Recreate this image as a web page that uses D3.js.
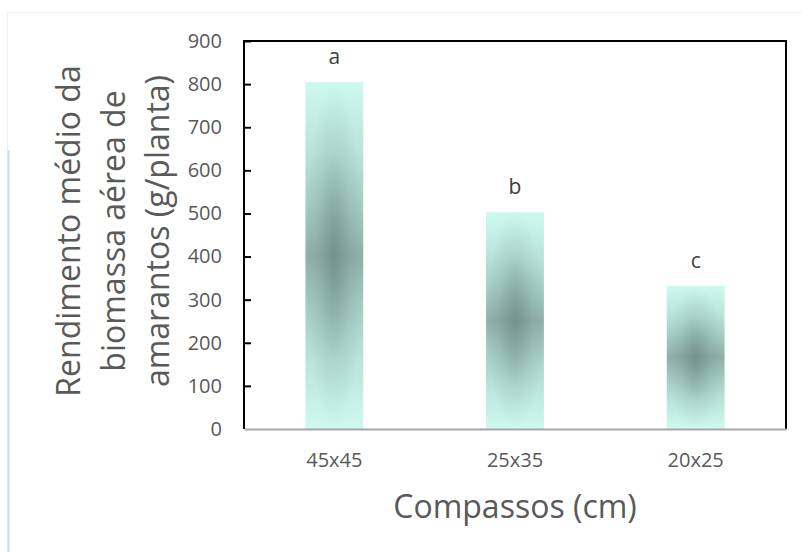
<!DOCTYPE html>
<html><head><meta charset="utf-8">
<script src="https://cdn.jsdelivr.net/npm/d3@7"></script>
<style>body{margin:0;background:#fff;}svg{display:block;}</style>
</head><body>
<script>
const categories = ["45x45", "25x35", "20x25"];
const values = [805, 503, 332];
const letters = ["a", "b", "c"];
const yTicks = [0, 100, 200, 300, 400, 500, 600, 700, 800, 900];
const yTitle = ["Rendimento médio da", "biomassa aérea de", "amarantos (g/planta)"];
const xTitle = "Compassos (cm)";

const W = 802, H = 552;
const m = {left: 244, right: 16, top: 41, bottom: 123};
const font = "'Open Sans', sans-serif";
const svg = d3.select("body").append("svg").attr("width", W).attr("height", H);

// page border
svg.append("path").attr("d", "M7.5,552 V12.5 H802").attr("fill", "none").attr("stroke", "#eef3f8").attr("stroke-width", 1);
svg.append("line").attr("x1", 8.5).attr("x2", 8.5).attr("y1", 150).attr("y2", 552).attr("stroke", "#c9dcf0").attr("stroke-width", 2);

const x = d3.scaleBand().domain(categories).range([m.left, W - m.right]).paddingInner(0.68).paddingOuter(0.34);
const y = d3.scaleLinear().domain([0, 900]).range([H - m.bottom, m.top]);

const defs = svg.append("defs");
const lg = defs.append("linearGradient").attr("id", "g1").attr("x1", 0).attr("x2", 0).attr("y1", 0).attr("y2", 1);
[[0, "#cdf9ee"], [0.2, "#b8e4d9"], [0.38, "#a0c8bf"], [0.5, "#90b0a9"], [0.62, "#a0c8bf"], [0.8, "#b8e4d9"], [1, "#cdf9ee"]]
  .forEach(([o, c]) => lg.append("stop").attr("offset", o).attr("stop-color", c));
const rg = defs.append("radialGradient").attr("id", "g2").attr("cx", 0.5).attr("cy", 0.5).attr("r", 0.5);
rg.append("stop").attr("offset", 0).attr("stop-color", "#637e78").attr("stop-opacity", 0.6);
rg.append("stop").attr("offset", 0.6).attr("stop-color", "#637e78").attr("stop-opacity", 0.15);
rg.append("stop").attr("offset", 1).attr("stop-color", "#637e78").attr("stop-opacity", 0);

const g = svg.append("g");
categories.forEach((c, i) => {
  g.append("rect").attr("x", x(c)).attr("width", x.bandwidth()).attr("y", y(values[i])).attr("height", y(0) - y(values[i])).attr("fill", "url(#g1)");
  g.append("rect").attr("x", x(c)).attr("width", x.bandwidth()).attr("y", y(values[i])).attr("height", y(0) - y(values[i])).attr("fill", "url(#g2)");
  g.append("text").attr("x", x(c) + x.bandwidth() / 2).attr("y", y(values[i]) - 18).attr("text-anchor", "middle")
    .attr("font-family", font).attr("font-size", 21).attr("fill", "#404040").text(letters[i]);
});

// frame
svg.append("path").attr("d", `M${m.left},${y(0)} V${m.top} H${W - m.right} V${y(0)}`).attr("fill", "none").attr("stroke", "#000").attr("stroke-width", 2);
// x axis
const xa = svg.append("g").attr("transform", `translate(0,${y(0)})`).call(d3.axisBottom(x).tickSize(0).tickPadding(24));
xa.select(".domain").attr("stroke", "#a6a6a6").attr("stroke-width", 2);
xa.selectAll("text").attr("font-family", font).attr("font-size", 20).attr("fill", "#595959");
// y axis
const ya = svg.append("g").attr("transform", `translate(${m.left},0)`).call(d3.axisLeft(y).tickValues(yTicks).tickSize(-7).tickPadding(22));
ya.select(".domain").remove();
ya.selectAll("line").attr("stroke", "#000").attr("stroke-width", 2);
ya.selectAll("text").attr("font-family", font).attr("font-size", 20).attr("fill", "#595959");
ya.selectAll(".tick").filter(d => d === 0).select("line").remove();

// y title
const yt = svg.append("text").attr("transform", "translate(0,231) rotate(-90)").attr("text-anchor", "middle")
  .attr("font-family", font).attr("font-size", 32).attr("fill", "#595959");
yTitle.forEach((t, i) => yt.append("tspan").attr("x", 0).attr("y", 80 + i * 44.5).text(t));
// x title
svg.append("text").attr("x", 515).attr("y", 518).attr("text-anchor", "middle")
  .attr("font-family", font).attr("font-size", 32).attr("fill", "#595959").text(xTitle);
</script>
</body></html>
